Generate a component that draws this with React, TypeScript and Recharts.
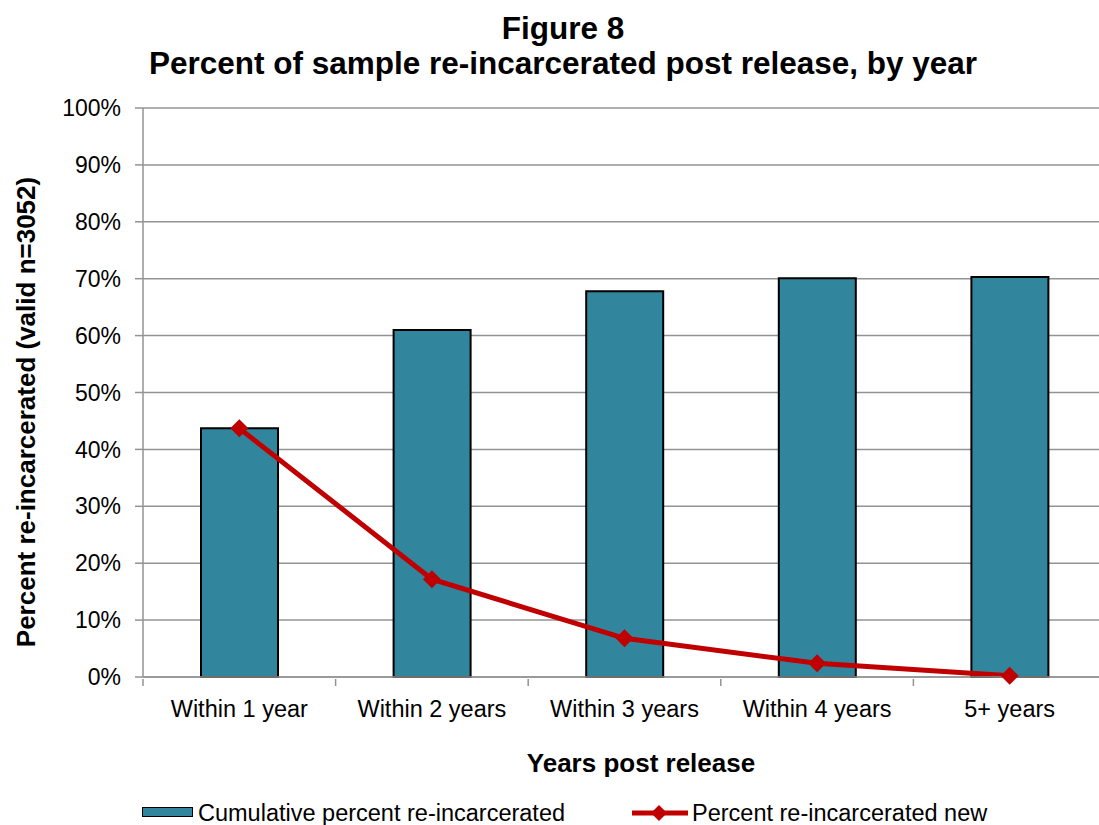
import React from 'react';
import { ComposedChart, Bar, Line, XAxis, YAxis, CartesianGrid } from 'recharts';

const categories = ['Within 1 year', 'Within 2 years', 'Within 3 years', 'Within 4 years', '5+ years'];
const cumulativePct = [43.7, 61.0, 67.8, 70.1, 70.3];
const newPct = [43.7, 17.2, 6.8, 2.4, 0.2];
const yTicks = [0, 10, 20, 30, 40, 50, 60, 70, 80, 90, 100];

const data = categories.map((name, i) => ({
  name,
  cumulative: cumulativePct[i],
  fresh: newPct[i],
}));

const FONT = '"Liberation Sans", Arial, sans-serif';
const TEAL = '#31859C';
const RED = '#C00000';
const GRID = '#939393';

// chart is a bit wider than the window, like the original export
const CHART_W = 1110;
const CHART_H = 825;
const Y_AXIS_W = 143;
const RIGHT = 4;
const BAND = (CHART_W - Y_AXIS_W - RIGHT) / categories.length;

const Diamond = (props: any) => {
  const { cx, cy } = props;
  if (cx == null || cy == null) return null;
  const r = 9;
  return (
    <polygon
      points={`${cx},${cy - r} ${cx + r},${cy} ${cx},${cy + r} ${cx - r},${cy}`}
      fill={RED}
    />
  );
};

const CategoryTick = (props: any) => {
  const { x, y, payload, index, visibleTicksCount } = props;
  const half = payload && payload.offset ? payload.offset : BAND / 2;
  return (
    <g>
      <line x1={x - half} y1={y} x2={x - half} y2={y + 7} stroke={GRID} strokeWidth={1.5} />
      {index === visibleTicksCount - 1 && (
        <line x1={x + half} y1={y} x2={x + half} y2={y + 7} stroke={GRID} strokeWidth={1.5} />
      )}
      <text x={x} y={y + 38} textAnchor="middle" fill="#000" fontSize={23.5} fontFamily={FONT}>
        {payload.value}
      </text>
    </g>
  );
};

const YTitle = () => (
  <text
    x={35}
    y={412}
    transform="rotate(-90 35 412)"
    textAnchor="middle"
    fontSize={26}
    fontWeight="bold"
    fontFamily={FONT}
    fill="#000"
  >
    Percent re-incarcerated (valid n=3052)
  </text>
);

const titleLine: React.CSSProperties = {
  position: 'absolute',
  left: 0,
  width: 1126,
  textAlign: 'center',
  fontSize: 31.5,
  fontWeight: 'bold',
  lineHeight: '35px',
  whiteSpace: 'nowrap',
};

const App: React.FC = () => {
  return (
    <div
      style={{
        position: 'absolute',
        left: 0,
        top: 0,
        width: 1099,
        height: 825,
        overflow: 'hidden',
        background: '#fff',
        fontFamily: FONT,
      }}
    >
      <div style={{ ...titleLine, top: 10.5 }}>Figure 8</div>
      <div style={{ ...titleLine, top: 45.5 }}>Percent of sample re-incarcerated post release, by year</div>

      <ComposedChart
        width={CHART_W}
        height={CHART_H}
        data={data}
        margin={{ top: 108, right: RIGHT, left: 0, bottom: 0 }}
      >
        <CartesianGrid vertical={false} stroke={GRID} strokeWidth={1.5} />
        <XAxis
          dataKey="name"
          height={148}
          axisLine={{ stroke: GRID, strokeWidth: 1.5 }}
          tickLine={false}
          tickSize={0}
          tick={<CategoryTick />}
          interval={0}
        />
        <YAxis
          width={Y_AXIS_W}
          domain={[0, 100]}
          ticks={yTicks}
          tickFormatter={(v: number) => `${v}%`}
          axisLine={{ stroke: GRID, strokeWidth: 1.5 }}
          tickLine={{ stroke: GRID, strokeWidth: 1.5 }}
          tickSize={8}
          tickMargin={14}
          tick={{ fill: '#000', fontSize: 23, fontFamily: FONT }}
          label={<YTitle />}
        />
        <Bar
          dataKey="cumulative"
          barSize={77}
          fill={TEAL}
          stroke="#000"
          strokeWidth={2}
          isAnimationActive={false}
        />
        <Line
          type="linear"
          dataKey="fresh"
          stroke={RED}
          strokeWidth={5}
          dot={<Diamond />}
          activeDot={false}
          isAnimationActive={false}
        />
      </ComposedChart>

      <div
        style={{
          position: 'absolute',
          left: 0,
          top: 743,
          width: 1282,
          textAlign: 'center',
          fontSize: 26,
          fontWeight: 'bold',
          lineHeight: '40px',
        }}
      >
        Years post release
      </div>

      {/* legend */}
      <div
        style={{
          position: 'absolute',
          left: 142,
          top: 807,
          width: 49,
          height: 8,
          background: TEAL,
          border: '1.5px solid #000',
        }}
      />
      <div style={{ position: 'absolute', left: 198, top: 797, fontSize: 23.5, lineHeight: '32px' }}>
        Cumulative percent re-incarcerated
      </div>
      <svg style={{ position: 'absolute', left: 630, top: 803 }} width={60} height={20}>
        <line x1={2} y1={10} x2={58} y2={10} stroke={RED} strokeWidth={5} />
        <polygon points="29,2 37,10 29,18 21,10" fill={RED} />
      </svg>
      <div style={{ position: 'absolute', left: 692, top: 797, fontSize: 23.5, lineHeight: '32px' }}>
        Percent re-incarcerated new
      </div>
    </div>
  );
};

export default App;
